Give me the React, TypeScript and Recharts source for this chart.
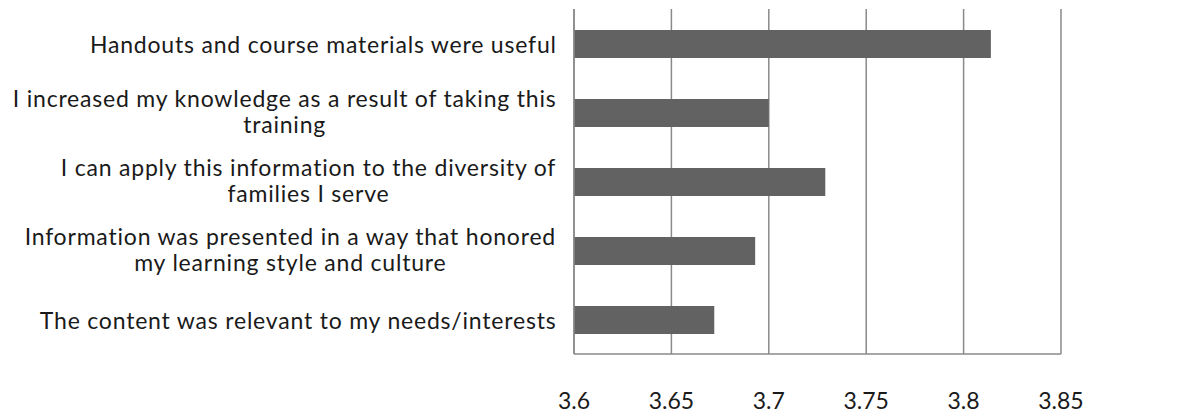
import React from 'react';
import { Bar, BarChart, CartesianGrid, XAxis, YAxis } from 'recharts';

// 항목 라벨 — 줄바꿈은 \n 으로 (원본 차트처럼 두 줄 가운데 정렬)
const CATEGORIES = [
  'Handouts and course materials were useful',
  'I increased my knowledge as a result of taking this\ntraining',
  'I can apply this information to the diversity of\nfamilies I serve',
  'Information was presented in a way that honored\nmy learning style and culture',
  'The content was relevant to my needs/interests',
];
const SCORES = [3.814, 3.7, 3.729, 3.693, 3.672];
const X_TICKS = [3.6, 3.65, 3.7, 3.75, 3.8, 3.85];

const data = CATEGORIES.map((name, i) => ({ name, score: SCORES[i] }));

const FONT_FAMILY = 'Lato, "Noto Sans", sans-serif';
const FONT_SIZE = 23;
const LETTER_SPACING = 0.8;
const LINE_HEIGHT = 26;
const BAR_COLOR = '#626262';
const GRID_COLOR = '#8a8a8a';
const TEXT_COLOR = '#1a1a1a';

let measureCtx: CanvasRenderingContext2D | null = null;
function textWidth(s: string): number {
  if (!measureCtx) measureCtx = document.createElement('canvas').getContext('2d');
  if (!measureCtx) return s.length * FONT_SIZE * 0.5;
  measureCtx.font = `${FONT_SIZE}px ${FONT_FAMILY}`;
  // 자간은 캔버스 측정에 안 들어가므로 글자 수만큼 더함
  return measureCtx.measureText(s).width + s.length * LETTER_SPACING;
}

// 여러 줄 라벨: 블록은 축 왼쪽에 오른쪽 정렬, 줄끼리는 가운데 정렬
function CategoryTick({ x, y, payload }: any) {
  const lines: string[] = String(payload.value).split('\n');
  const maxW = Math.max(...lines.map(textWidth));
  const cx = x - 9 - maxW / 2;
  const offset = lines.length > 1 ? -2 : 0;
  return (
    <g>
      {lines.map((ln, i) => (
        <text
          key={i}
          x={cx}
          y={y + offset + (i - (lines.length - 1) / 2) * LINE_HEIGHT}
          textAnchor="middle"
          dominantBaseline="central"
          fill={TEXT_COLOR}
          fontSize={FONT_SIZE}
          fontFamily={FONT_FAMILY}
          letterSpacing={LETTER_SPACING}
        >
          {ln}
        </text>
      ))}
    </g>
  );
}

function ValueTick({ x, y, payload }: any) {
  return (
    <text
      x={x}
      y={y + 38}
      textAnchor="middle"
      dominantBaseline="central"
      fill={TEXT_COLOR}
      fontSize={FONT_SIZE}
      fontFamily={FONT_FAMILY}
    >
      {payload.value}
    </text>
  );
}

export default function App() {
  return (
    <div style={{ position: 'absolute', left: 0, top: 0, width: 1188, height: 415, background: '#fff' }}>
      <BarChart
        width={1188}
        height={415}
        data={data}
        layout="vertical"
        margin={{ top: 9, right: 127, bottom: 0, left: 0 }}
      >
        <CartesianGrid horizontal={false} stroke={GRID_COLOR} strokeWidth={1.5} />
        <XAxis
          type="number"
          domain={[3.6, 3.85]}
          ticks={X_TICKS}
          allowDataOverflow
          height={61}
          axisLine={{ stroke: GRID_COLOR, strokeWidth: 1.5 }}
          tickLine={false}
          tick={<ValueTick />}
          interval={0}
        />
        <YAxis
          type="category"
          dataKey="name"
          width={574}
          axisLine={{ stroke: GRID_COLOR, strokeWidth: 1.5 }}
          tickLine={false}
          tick={<CategoryTick />}
          interval={0}
        />
        <Bar dataKey="score" fill={BAR_COLOR} barSize={28} isAnimationActive={false} />
      </BarChart>
    </div>
  );
}
